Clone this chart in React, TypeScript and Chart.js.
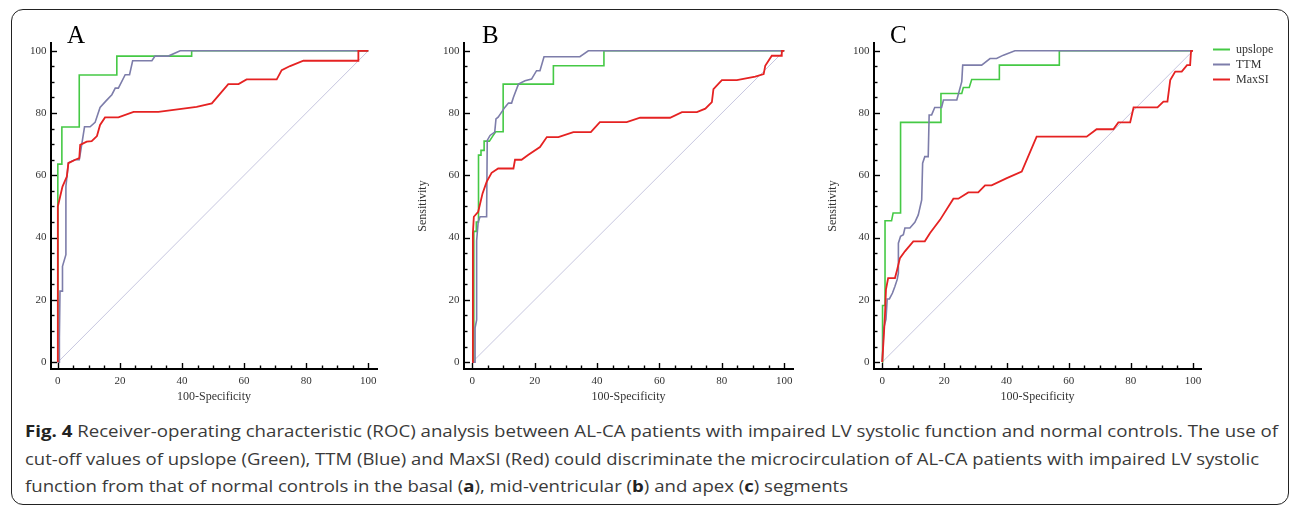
import React, { useEffect, useLayoutEffect, useRef } from 'react';
import { Chart, registerables } from 'chart.js';

Chart.register(...registerables);

// ---------- data ----------
const TICK_VALUES = [0, 5, 10, 15, 20, 25, 30, 35, 40, 45, 50, 55, 60, 65, 70, 75, 80, 85, 90, 95, 100];
const MAJOR_LABELS = ['0', '20', '40', '60', '80', '100'];
const SERIES_LABELS = ['upslope', 'TTM', 'MaxSI'];
const X_TITLE = '100-Specificity';
const Y_TITLE = 'Sensitivity';
const DIAGONAL = [[0, 0], [100, 100]];

const A_UPSLOPE = [[0, 0], [0, 63.6], [1.3, 63.6], [1.3, 75.5], [6.9, 75.5], [6.9, 92.2], [19, 92.2], [19, 98.3], [43.1, 98.3], [43.1, 100], [100, 100]];
const A_TTM = [[0, 0], [0.5, 0], [0.5, 7.8], [0.7, 22.8], [1.5, 22.8], [1.5, 30.8], [2.6, 34.5], [2.6, 56.4], [3.4, 64], [5.5, 65], [6.9, 65], [7.4, 68], [8.6, 75.6], [10.4, 75.6], [12, 77], [13.6, 81.8], [15.6, 84], [17.4, 85.9], [18.5, 88], [19.5, 88], [21.7, 92.3], [23.1, 92.3], [24.1, 96.8], [30.3, 96.8], [31.3, 98.3], [35.6, 98.3], [39.4, 100], [100, 100]];
const A_MAXSI = [[0, 0], [0, 50], [0.75, 53.2], [1.5, 56.4], [2.9, 59.6], [3.4, 63.9], [5.6, 65], [6.9, 65.5], [7.2, 69.8], [9.3, 70.8], [10.9, 71], [12.6, 72.6], [13.6, 76.2], [15.2, 78.6], [19.5, 78.6], [24.4, 80.4], [32.4, 80.4], [44.7, 82], [49.6, 83.1], [54.9, 89.3], [58.2, 89.3], [60.8, 90.8], [70.5, 90.8], [72.1, 93.8], [74.8, 95.1], [79.1, 96.8], [96.8, 96.8], [96.8, 100], [100, 100]];

const B_UPSLOPE = [[0, 0], [0.5, 0], [0.5, 42], [1.3, 42], [1.3, 45], [2, 45], [2, 66.5], [2.8, 66.5], [2.8, 68], [3.8, 68], [3.8, 71], [5.5, 71], [6.5, 72.5], [7.5, 74], [9.9, 74], [9.9, 89.3], [26, 89.3], [26, 95.2], [42.2, 95.2], [42.2, 100], [100, 100]];
const B_TTM = [[0, 0], [0.9, 0], [0.9, 11], [1.4, 13.6], [1.4, 39], [1.9, 45.1], [2.5, 46.7], [4.6, 46.7], [4.8, 71.2], [5.7, 72.8], [7.2, 73.9], [7.6, 78.1], [8.3, 78.7], [9.4, 80.3], [10.5, 81.9], [11.6, 83.2], [12.6, 83.2], [13.2, 85.1], [14.8, 89.3], [16.9, 90.4], [19, 90.9], [20.6, 93.6], [21.7, 93.6], [23, 98.1], [34.5, 98.1], [37.2, 100], [100, 100]];
const B_MAXSI = [[0, 0], [0.2, 0], [0.2, 41.4], [0.5, 46.7], [1.9, 48.3], [3.3, 54.2], [4.6, 57.9], [6.2, 60.8], [8.3, 62.2], [13.2, 62.2], [13.7, 65], [15.8, 65], [18, 66.6], [21.7, 69.1], [23.9, 72.3], [27.6, 72.3], [32.4, 73.9], [38, 73.9], [40.9, 77.1], [49.5, 77.1], [53.8, 78.5], [63.4, 78.5], [67.2, 80.3], [72, 80.3], [74.7, 81.4], [76.8, 83.5], [77.3, 87.7], [80, 90.6], [84.8, 90.6], [90.7, 91.7], [93.4, 92.5], [93.9, 95.2], [96, 98.4], [99.2, 98.4], [99.2, 100], [100, 100]];

const C_UPSLOPE = [[0, 0], [0.1, 0], [0.1, 18.2], [0.9, 18.2], [0.9, 45.4], [3, 45.4], [3.5, 47.9], [5.9, 47.9], [5.9, 77], [18.9, 77], [18.9, 86.3], [25.6, 86.3], [26.1, 88.2], [28, 88.2], [28.8, 90.8], [37.7, 90.8], [37.7, 95.4], [57, 95.4], [57, 100], [100, 100]];
const C_TTM = [[0, 0], [0.5, 11], [1.2, 13.7], [1.6, 20.3], [2.3, 20.3], [3.3, 22.2], [4.1, 24.4], [4.8, 26.5], [5.2, 28.6], [5.2, 38.2], [5.9, 40.4], [6.8, 40.9], [7.3, 43.1], [8.9, 43.1], [10.5, 44.9], [11.6, 47.3], [12.7, 52.1], [13, 63.9], [13.7, 66], [14.8, 66], [15.1, 79.4], [15.9, 79.4], [16.9, 81.8], [19.1, 81.8], [19.7, 84.2], [24, 84.2], [25.6, 90.1], [25.9, 95.4], [32, 95.4], [34.7, 97.5], [36.8, 97.5], [39, 98.6], [42.7, 100], [100, 100]];
const C_MAXSI = [[0, 0], [0.5, 8.3], [0.86, 14.7], [1.2, 23.3], [1.9, 27], [4.1, 27], [4.8, 29.7], [5.7, 33.4], [7.3, 35.6], [10, 38.8], [13.7, 38.8], [15.4, 41.5], [18.6, 45.7], [22.9, 52.5], [24.5, 52.5], [27.7, 54.5], [30.9, 54.5], [33.1, 56.8], [35.2, 56.8], [40.1, 59.1], [44.9, 61.2], [49.7, 72.4], [65.8, 72.4], [69, 74.8], [74.4, 74.8], [76, 77], [79.8, 77], [80.9, 81.8], [88.6, 81.8], [90.5, 83.7], [91.8, 83.7], [92.7, 90.6], [94.3, 93.3], [96.4, 93.3], [98.1, 95.4], [99.1, 95.4], [99.4, 100], [100, 100]];

// ---------- styles ----------
const GREEN = '#45c945';
const BLUE = '#7d7daa';
const RED = '#e52222';
const DIAG = '#c6c6df';
const SERIF = '"Liberation Serif", "Times New Roman", serif';
const TEXT = '#333333';

const tickMarks = {
  id: 'tickMarks',
  afterDraw(chart: any) {
    const { ctx, chartArea, scales } = chart;
    ctx.save();
    ctx.strokeStyle = '#000';
    ctx.lineWidth = 1.4;
    scales.x.ticks.forEach((t: any) => {
      const px = Math.round(scales.x.getPixelForValue(t.value)) + 0.5;
      const len = t.value % 20 === 0 ? 6 : 3.5;
      ctx.beginPath();
      ctx.moveTo(px, chartArea.bottom);
      ctx.lineTo(px, chartArea.bottom - len);
      ctx.stroke();
    });
    scales.y.ticks.forEach((t: any) => {
      const py = Math.round(scales.y.getPixelForValue(t.value)) + 0.5;
      const len = t.value % 20 === 0 ? 6 : 3.5;
      ctx.beginPath();
      ctx.moveTo(chartArea.left, py);
      ctx.lineTo(chartArea.left + len, py);
      ctx.stroke();
    });
    ctx.restore();
  },
};

const sideLegend = {
  id: 'sideLegend',
  afterDraw(chart: any, _args: any, opts: any) {
    if (!opts || !opts.display) return;
    const { ctx, chartArea } = chart;
    const x0 = chartArea.right + opts.offsetX;
    ctx.save();
    ctx.font = `12px ${SERIF}`;
    ctx.textBaseline = 'middle';
    ctx.textAlign = 'left';
    SERIES_LABELS.forEach((label, i) => {
      const ds = chart.data.datasets.find((d: any) => d.label === label);
      const y = Math.round(chartArea.top + opts.firstY + i * opts.step) + 0.5;
      ctx.strokeStyle = ds.borderColor;
      ctx.lineWidth = 2;
      ctx.beginPath();
      ctx.moveTo(x0, y);
      ctx.lineTo(x0 + 17, y);
      ctx.stroke();
      ctx.fillStyle = TEXT;
      ctx.fillText(label, x0 + 23, y);
    });
    ctx.restore();
  },
};

type PanelProps = {
  left: number;
  areaWidth: number;
  xMin: number;
  xMax: number;
  rightPad: number;
  yTitle: boolean;
  legend: boolean;
  up: number[][];
  ttm: number[][];
  maxsi: number[][];
};

const Y_AXIS_W = 50;
const X_AXIS_H = 40;
const TOP_PAD = 12;
const AREA_TOP = 43;
const AREA_H = 326;

function RocPanel(p: PanelProps) {
  const ref = useRef<HTMLCanvasElement>(null);
  const width = Y_AXIS_W + p.areaWidth + p.rightPad;
  const height = TOP_PAD + AREA_H + X_AXIS_H;
  useEffect(() => {
    if (!ref.current) return;
    const labelCb = (v: any) => {
      const s = String(v);
      return MAJOR_LABELS.includes(s) ? s : '';
    };
    const chart = new Chart(ref.current, {
      type: 'line',
      data: {
        datasets: [
          { label: SERIES_LABELS[0], data: p.up as any, borderColor: GREEN, borderWidth: 1.6, order: 2 },
          { label: SERIES_LABELS[1], data: p.ttm as any, borderColor: BLUE, borderWidth: 1.6, order: 1 },
          { label: SERIES_LABELS[2], data: p.maxsi as any, borderColor: RED, borderWidth: 1.8, order: 0 },
          { label: 'reference', data: DIAGONAL as any, borderColor: DIAG, borderWidth: 1, order: 3 },
        ],
      },
      options: {
        responsive: false,
        animation: false,
        events: [],
        elements: { point: { radius: 0 }, line: { tension: 0, fill: false } },
        layout: { padding: { left: 0, top: TOP_PAD, right: p.rightPad, bottom: 0 } },
        plugins: {
          legend: { display: false },
          tooltip: { enabled: false },
          // @ts-ignore
          sideLegend: { display: p.legend, offsetX: 12, firstY: 6.3, step: 15 },
        },
        scales: {
          x: {
            type: 'linear',
            min: p.xMin,
            max: p.xMax,
            grid: { display: false, drawTicks: false },
            border: { display: true, color: '#000', width: 2 },
            ticks: {
              autoSkip: false,
              maxRotation: 0,
              padding: 6,
              color: TEXT,
              font: { family: SERIF, size: 11 },
              callback: labelCb,
            },
            afterBuildTicks: (s: any) => {
              s.ticks = TICK_VALUES.map((v) => ({ value: v }));
            },
            afterFit: (s: any) => {
              s.height = X_AXIS_H;
            },
            title: {
              display: true,
              text: X_TITLE,
              color: TEXT,
              font: { family: SERIF, size: 12 },
              padding: { top: 0, bottom: 5 },
            },
          },
          y: {
            type: 'linear',
            min: -2.2,
            max: 102.5,
            grid: { display: false, drawTicks: false },
            border: { display: true, color: '#000', width: 2 },
            ticks: {
              autoSkip: false,
              padding: 4.5,
              color: TEXT,
              font: { family: SERIF, size: 11 },
              callback: labelCb,
            },
            afterBuildTicks: (s: any) => {
              s.ticks = TICK_VALUES.map((v) => ({ value: v }));
            },
            afterFit: (s: any) => {
              s.width = Y_AXIS_W;
            },
            title: {
              display: p.yTitle,
              text: Y_TITLE,
              color: TEXT,
              font: { family: SERIF, size: 12 },
              padding: { top: 1.5, bottom: 0 },
            },
          },
        },
      },
      plugins: [tickMarks, sideLegend],
    } as any);
    return () => chart.destroy();
  }, []);
  return (
    <canvas
      ref={ref}
      width={width}
      height={height}
      style={{ position: 'absolute', left: p.left, top: AREA_TOP - TOP_PAD, width, height }}
    />
  );
}

function FitLine({ top, target, children }: { top: number; target: number; children: React.ReactNode }) {
  const ref = useRef<HTMLSpanElement>(null);
  useLayoutEffect(() => {
    const el = ref.current;
    if (!el) return;
    el.style.transform = 'none';
    const w = el.getBoundingClientRect().width;
    if (w > 0) el.style.transform = `scaleX(${target / w})`;
  }, [target]);
  return (
    <span
      ref={ref}
      style={{
        position: 'absolute',
        left: 25,
        top,
        display: 'inline-block',
        whiteSpace: 'nowrap',
        transformOrigin: '0 0',
        fontFamily: '"Open Sans", "Noto Sans", sans-serif',
        fontSize: 16,
        lineHeight: '20px',
        color: '#3a3a3a',
      }}
    >
      {children}
    </span>
  );
}

const letterStyle: React.CSSProperties = {
  position: 'absolute',
  top: 22,
  fontFamily: SERIF,
  fontSize: 25,
  lineHeight: '25px',
  color: '#000',
};

export default function App() {
  return (
    <div style={{ position: 'absolute', left: 0, top: 0, width: 1292, height: 506, overflow: 'hidden', background: '#fff' }}>
      <div
        style={{
          position: 'absolute',
          left: 11,
          top: 9,
          width: 1278,
          height: 496,
          boxSizing: 'border-box',
          border: '1.5px solid #222',
          borderRadius: 12,
        }}
      />
      <RocPanel left={1} areaWidth={326} xMin={-2.2} xMax={102.8} rightPad={15} yTitle={false} legend={false} up={A_UPSLOPE} ttm={A_TTM} maxsi={A_MAXSI} />
      <RocPanel left={414} areaWidth={329} xMin={-2.65} xMax={102.8} rightPad={15} yTitle={true} legend={false} up={B_UPSLOPE} ttm={B_TTM} maxsi={B_MAXSI} />
      <RocPanel left={824} areaWidth={327} xMin={-2.65} xMax={102.6} rightPad={89} yTitle={true} legend={true} up={C_UPSLOPE} ttm={C_TTM} maxsi={C_MAXSI} />
      <div style={{ ...letterStyle, left: 67 }}>A</div>
      <div style={{ ...letterStyle, left: 482 }}>B</div>
      <div style={{ ...letterStyle, left: 890 }}>C</div>
      <FitLine top={421} target={1253}>
        <b style={{ color: '#222' }}>Fig. 4</b> Receiver-operating characteristic (ROC) analysis between AL-CA patients with impaired LV systolic function and normal controls. The use of
      </FitLine>
      <FitLine top={449} target={1234}>
        cut-off values of upslope (Green), TTM (Blue) and MaxSI (Red) could discriminate the microcirculation of AL-CA patients with impaired LV systolic
      </FitLine>
      <FitLine top={476} target={823}>
        function from that of normal controls in the basal (<b style={{ color: '#222' }}>a</b>), mid-ventricular (<b style={{ color: '#222' }}>b</b>) and apex (<b style={{ color: '#222' }}>c</b>) segments
      </FitLine>
    </div>
  );
}
